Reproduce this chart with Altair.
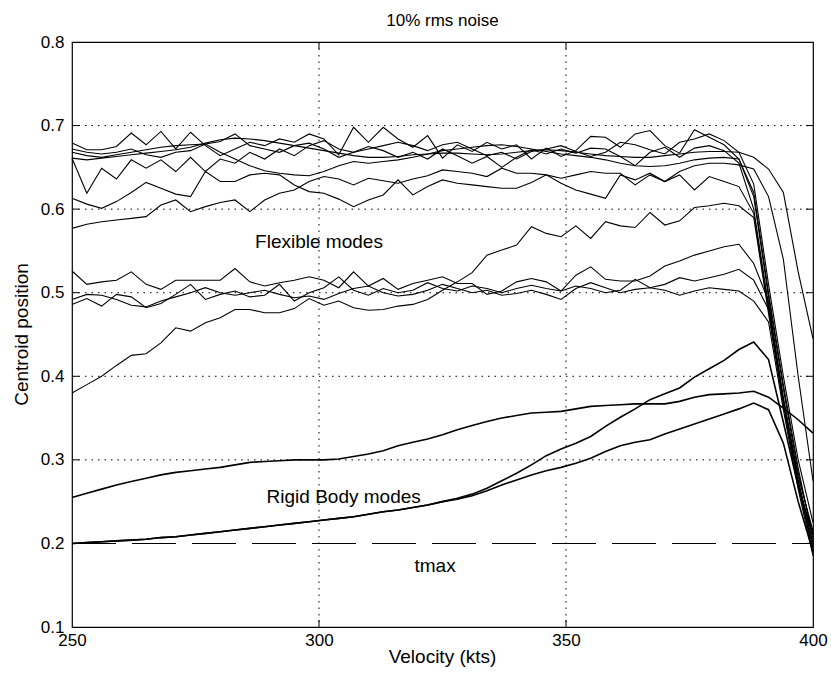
import altair as alt
import pandas as pd

FONT = "Liberation Sans"

# Velocity sweep (kts), shared by every mode trace
velocity = [250, 253, 256, 259, 262, 265, 268, 271, 274, 277,
            280, 283, 286, 289, 292, 295, 298, 301, 304, 307,
            310, 313, 316, 319, 322, 325, 328, 331, 334, 337,
            340, 343, 346, 349, 352, 355, 358, 361, 364, 367,
            370, 373, 376, 379, 382, 385, 388, 391, 394, 397,
            400]

# Flexible-mode centroid traces
flex_1 = [0.679, 0.671, 0.671, 0.675, 0.691, 0.677, 0.693, 0.672, 0.692, 0.676,
          0.664, 0.672, 0.680, 0.676, 0.684, 0.680, 0.690, 0.684, 0.665, 0.698,
          0.680, 0.698, 0.684, 0.674, 0.688, 0.661, 0.677, 0.669, 0.680, 0.672,
          0.677, 0.660, 0.673, 0.663, 0.670, 0.687, 0.686, 0.674, 0.690, 0.694,
          0.676, 0.667, 0.695, 0.686, 0.677, 0.660, 0.620, 0.500, 0.390, 0.290,
          0.205]
flex_2 = [0.661, 0.659, 0.661, 0.663, 0.665, 0.667, 0.669, 0.671, 0.674, 0.679,
          0.683, 0.685, 0.684, 0.682, 0.679, 0.676, 0.673, 0.670, 0.667, 0.664,
          0.662, 0.662, 0.663, 0.665, 0.666, 0.667, 0.667, 0.666, 0.665, 0.666,
          0.668, 0.670, 0.671, 0.670, 0.668, 0.666, 0.664, 0.663, 0.662, 0.662,
          0.664, 0.666, 0.668, 0.669, 0.669, 0.668, 0.662, 0.648, 0.620, 0.525,
          0.445]
flex_3 = [0.661, 0.619, 0.649, 0.636, 0.659, 0.649, 0.659, 0.645, 0.662, 0.645,
          0.660, 0.655, 0.668, 0.660, 0.672, 0.664, 0.676, 0.682, 0.672, 0.668,
          0.675, 0.670, 0.662, 0.668, 0.660, 0.672, 0.664, 0.655, 0.663, 0.650,
          0.662, 0.671, 0.666, 0.672, 0.667, 0.673, 0.672, 0.663, 0.652, 0.668,
          0.674, 0.662, 0.673, 0.676, 0.670, 0.655, 0.600, 0.485, 0.375, 0.280,
          0.215]
flex_4 = [0.613, 0.606, 0.601, 0.609, 0.620, 0.632, 0.625, 0.618, 0.615, 0.645,
          0.633, 0.633, 0.641, 0.643, 0.641, 0.629, 0.621, 0.619, 0.612, 0.603,
          0.611, 0.617, 0.635, 0.617, 0.627, 0.635, 0.631, 0.629, 0.627, 0.625,
          0.625, 0.632, 0.641, 0.631, 0.623, 0.618, 0.613, 0.641, 0.635, 0.643,
          0.633, 0.641, 0.623, 0.639, 0.633, 0.627, 0.595, 0.480, 0.370, 0.275,
          0.200]
flex_5 = [0.577, 0.582, 0.585, 0.587, 0.589, 0.591, 0.605, 0.611, 0.597, 0.603,
          0.608, 0.611, 0.597, 0.611, 0.619, 0.623, 0.633, 0.639, 0.636, 0.629,
          0.637, 0.634, 0.631, 0.636, 0.640, 0.647, 0.645, 0.643, 0.639, 0.649,
          0.643, 0.643, 0.641, 0.637, 0.641, 0.645, 0.643, 0.643, 0.629, 0.641,
          0.633, 0.645, 0.652, 0.655, 0.655, 0.653, 0.648, 0.615, 0.540, 0.400,
          0.275]
flex_6 = [0.672, 0.668, 0.666, 0.668, 0.672, 0.665, 0.662, 0.668, 0.670, 0.678,
          0.681, 0.690, 0.676, 0.672, 0.668, 0.676, 0.679, 0.672, 0.662, 0.668,
          0.672, 0.676, 0.680, 0.676, 0.670, 0.677, 0.680, 0.672, 0.664, 0.668,
          0.660, 0.669, 0.672, 0.676, 0.669, 0.663, 0.668, 0.680, 0.677, 0.671,
          0.666, 0.680, 0.684, 0.690, 0.682, 0.668, 0.630, 0.510, 0.400, 0.300,
          0.225]
flex_7 = [0.668, 0.664, 0.662, 0.665, 0.668, 0.671, 0.674, 0.676, 0.677, 0.678,
          0.668, 0.660, 0.652, 0.646, 0.643, 0.641, 0.640, 0.645, 0.652, 0.657,
          0.655, 0.657, 0.659, 0.662, 0.666, 0.670, 0.672, 0.674, 0.676, 0.677,
          0.675, 0.672, 0.669, 0.666, 0.664, 0.662, 0.659, 0.655, 0.652, 0.651,
          0.652, 0.655, 0.659, 0.661, 0.662, 0.660, 0.615, 0.495, 0.385, 0.285,
          0.210]
flex_8 = [0.526, 0.510, 0.513, 0.515, 0.525, 0.510, 0.504, 0.515, 0.515, 0.515,
          0.515, 0.529, 0.513, 0.508, 0.512, 0.515, 0.519, 0.515, 0.506, 0.525,
          0.508, 0.517, 0.504, 0.511, 0.515, 0.519, 0.511, 0.511, 0.498, 0.502,
          0.513, 0.517, 0.513, 0.502, 0.521, 0.531, 0.516, 0.514, 0.514, 0.520,
          0.532, 0.538, 0.545, 0.550, 0.555, 0.558, 0.535, 0.490, 0.370, 0.270,
          0.190]
flex_9 = [0.486, 0.493, 0.484, 0.498, 0.495, 0.482, 0.487, 0.498, 0.510, 0.492,
          0.498, 0.502, 0.495, 0.497, 0.510, 0.490, 0.500, 0.506, 0.519, 0.503,
          0.497, 0.505, 0.500, 0.503, 0.512, 0.505, 0.502, 0.508, 0.505, 0.500,
          0.505, 0.509, 0.505, 0.502, 0.508, 0.505, 0.500, 0.503, 0.516, 0.506,
          0.510, 0.518, 0.514, 0.518, 0.522, 0.528, 0.515, 0.480, 0.370, 0.275,
          0.200]
flex_10 = [0.492, 0.498, 0.497, 0.492, 0.485, 0.483, 0.490, 0.495, 0.500, 0.506,
           0.500, 0.497, 0.500, 0.503, 0.498, 0.494, 0.496, 0.492, 0.499, 0.505,
           0.508, 0.500, 0.496, 0.498, 0.503, 0.510, 0.505, 0.500, 0.503, 0.497,
           0.499, 0.503, 0.498, 0.492, 0.505, 0.512, 0.506, 0.500, 0.504, 0.506,
           0.503, 0.497, 0.502, 0.506, 0.504, 0.502, 0.490, 0.465, 0.360, 0.265,
           0.185]
flex_11 = [0.380, 0.390, 0.400, 0.413, 0.425, 0.427, 0.440, 0.458, 0.454, 0.464,
           0.470, 0.480, 0.480, 0.476, 0.476, 0.481, 0.493, 0.485, 0.490, 0.482,
           0.479, 0.480, 0.484, 0.486, 0.492, 0.503, 0.513, 0.524, 0.545, 0.551,
           0.557, 0.579, 0.571, 0.567, 0.580, 0.565, 0.585, 0.580, 0.578, 0.596,
           0.581, 0.586, 0.602, 0.604, 0.607, 0.604, 0.590, 0.475, 0.365, 0.270,
           0.195]

# Rigid-body centroid traces
rigid_1 = [0.255, 0.260, 0.265, 0.270, 0.274, 0.278, 0.282, 0.285, 0.287, 0.289,
           0.291, 0.294, 0.297, 0.298, 0.299, 0.300, 0.300, 0.300, 0.301, 0.304,
           0.307, 0.311, 0.317, 0.321, 0.325, 0.330, 0.336, 0.341, 0.346, 0.350,
           0.353, 0.356, 0.357, 0.358, 0.361, 0.364, 0.365, 0.366, 0.367, 0.367,
           0.367, 0.370, 0.375, 0.378, 0.379, 0.380, 0.382, 0.375, 0.362, 0.348,
           0.332]
rigid_2 = [0.200, 0.201, 0.202, 0.203, 0.204, 0.205, 0.207, 0.208, 0.210, 0.212,
           0.214, 0.216, 0.218, 0.220, 0.222, 0.224, 0.226, 0.228, 0.230, 0.232,
           0.235, 0.238, 0.240, 0.243, 0.246, 0.250, 0.254, 0.259, 0.266, 0.275,
           0.284, 0.294, 0.305, 0.313, 0.320, 0.328, 0.340, 0.351, 0.361, 0.372,
           0.379, 0.386, 0.399, 0.409, 0.419, 0.432, 0.441, 0.420, 0.345, 0.268,
           0.210]
rigid_3 = [0.200, 0.201, 0.202, 0.203, 0.204, 0.205, 0.207, 0.208, 0.210, 0.212,
           0.214, 0.216, 0.218, 0.220, 0.222, 0.224, 0.226, 0.228, 0.230, 0.232,
           0.235, 0.238, 0.240, 0.243, 0.246, 0.250, 0.253, 0.257, 0.263, 0.270,
           0.276, 0.282, 0.287, 0.291, 0.296, 0.302, 0.310, 0.317, 0.321, 0.324,
           0.331, 0.337, 0.343, 0.349, 0.355, 0.361, 0.368, 0.360, 0.320, 0.250,
           0.190]

# Limit line
tmax_velocity = [250, 400]
tmax_level = [0.2, 0.2]

# Axis ticks and dotted grid positions
x_ticks = [250, 300, 350, 400]
y_ticks = [0.1, 0.2, 0.3, 0.4, 0.5, 0.6, 0.7, 0.8]
x_inner_ticks = [300, 350]
y_inner_ticks = [0.2, 0.3, 0.4, 0.5, 0.6, 0.7]
y_grid = [0.3, 0.4, 0.5, 0.6, 0.7]

# In-plot annotations
note_text = ["Flexible modes", "Rigid Body modes", "tmax"]
note_velocity = [300, 305, 323.5]
note_level = [0.561, 0.256, 0.173]

flexible = {"flex_1": flex_1, "flex_2": flex_2, "flex_3": flex_3, "flex_4": flex_4,
            "flex_5": flex_5, "flex_6": flex_6, "flex_7": flex_7, "flex_8": flex_8,
            "flex_9": flex_9, "flex_10": flex_10, "flex_11": flex_11}
rigid = {"rigid_1": rigid_1, "rigid_2": rigid_2, "rigid_3": rigid_3}


def long_table(group):
    rows = []
    for name, values in group.items():
        for v, c in zip(velocity, values):
            rows.append({"mode": name, "velocity": v, "centroid": c})
    return pd.DataFrame(rows)


flex_df = long_table(flexible)
rigid_df = long_table(rigid)
tmax_df = pd.DataFrame({"velocity": tmax_velocity, "centroid": tmax_level})
notes_df = pd.DataFrame({"velocity": note_velocity, "centroid": note_level, "label": note_text})
xt_df = pd.DataFrame({"velocity": x_inner_ticks})
yt_df = pd.DataFrame({"centroid": y_inner_ticks})
yg_df = pd.DataFrame({"centroid": y_grid})

W, H = 741, 585
x_scale = alt.Scale(domain=[250, 400], nice=False, zero=False)
y_scale = alt.Scale(domain=[0.1, 0.8], nice=False, zero=False)

x_axis = alt.Axis(values=x_ticks, format="d", title=None, grid=False, ticks=False,
                  domain=False, labelPadding=5, labelFlush=False)
y_axis = alt.Axis(values=y_ticks, format=".1f", title=None, grid=False, ticks=False,
                  domain=False, labelPadding=8, labelFlush=False)

X = alt.X("velocity:Q", scale=x_scale, axis=x_axis)
Y = alt.Y("centroid:Q", scale=y_scale, axis=y_axis)

grid_style = dict(color="black", strokeWidth=1, strokeDash=[1.5, 5])
x_grid_lines = alt.Chart(xt_df).mark_rule(**grid_style).encode(
    x=X, y=alt.value(0), y2=alt.value(H))
y_grid_lines = alt.Chart(yg_df).mark_rule(**grid_style).encode(
    y=Y, x=alt.value(0), x2=alt.value(W))

flex_lines = alt.Chart(flex_df).mark_line(color="black", strokeWidth=1.1).encode(
    x=X, y=Y, detail="mode:N")
rigid_lines = alt.Chart(rigid_df).mark_line(color="black", strokeWidth=1.6).encode(
    x=X, y=Y, detail="mode:N")
tmax_line = alt.Chart(tmax_df).mark_line(color="black", strokeWidth=1.1,
                                          strokeDash=[44, 16]).encode(x=X, y=Y)

tick_len = 7
bottom_ticks = alt.Chart(xt_df).mark_rule(color="black").encode(
    x=X, y=alt.value(H), y2=alt.value(H - tick_len))
top_ticks = alt.Chart(xt_df).mark_rule(color="black").encode(
    x=X, y=alt.value(0), y2=alt.value(tick_len))
left_ticks = alt.Chart(yt_df).mark_rule(color="black").encode(
    y=Y, x=alt.value(0), x2=alt.value(tick_len))
right_ticks = alt.Chart(yt_df).mark_rule(color="black").encode(
    y=Y, x=alt.value(W), x2=alt.value(W - tick_len))

notes = alt.Chart(notes_df).mark_text(font=FONT, fontSize=19, color="black",
                                      baseline="middle", align="center").encode(
    x=X, y=Y, text="label:N")

title = alt.Chart(pd.DataFrame({"label": ["10% rms noise"]})).mark_text(
    font=FONT, fontSize=17, color="black", baseline="middle", align="center").encode(
    x=alt.value(W / 2), y=alt.value(-21), text="label:N")
xlab = alt.Chart(pd.DataFrame({"label": ["Velocity (kts)"]})).mark_text(
    font=FONT, fontSize=19, color="black", baseline="middle", align="center").encode(
    x=alt.value(W / 2), y=alt.value(H + 30), text="label:N")
ylab = alt.Chart(pd.DataFrame({"label": ["Centroid position"]})).mark_text(
    font=FONT, fontSize=19, color="black", baseline="middle", align="center",
    angle=270).encode(x=alt.value(-50), y=alt.value(H / 2), text="label:N")

chart = alt.layer(
    x_grid_lines, y_grid_lines,
    flex_lines, rigid_lines, tmax_line,
    bottom_ticks, top_ticks, left_ticks, right_ticks,
    notes, title, xlab, ylab,
).properties(
    width=W, height=H,
    autosize=alt.AutoSizeParams(type="none"),
    padding={"left": 72, "top": 42, "right": 18, "bottom": 47},
    background="white",
).configure_view(
    stroke="black", strokeWidth=1.2
).configure_axis(
    labelFont=FONT, labelFontSize=17, labelColor="black",
)

chart.save("out.html", embed_options={"renderer": "svg", "actions": False})
